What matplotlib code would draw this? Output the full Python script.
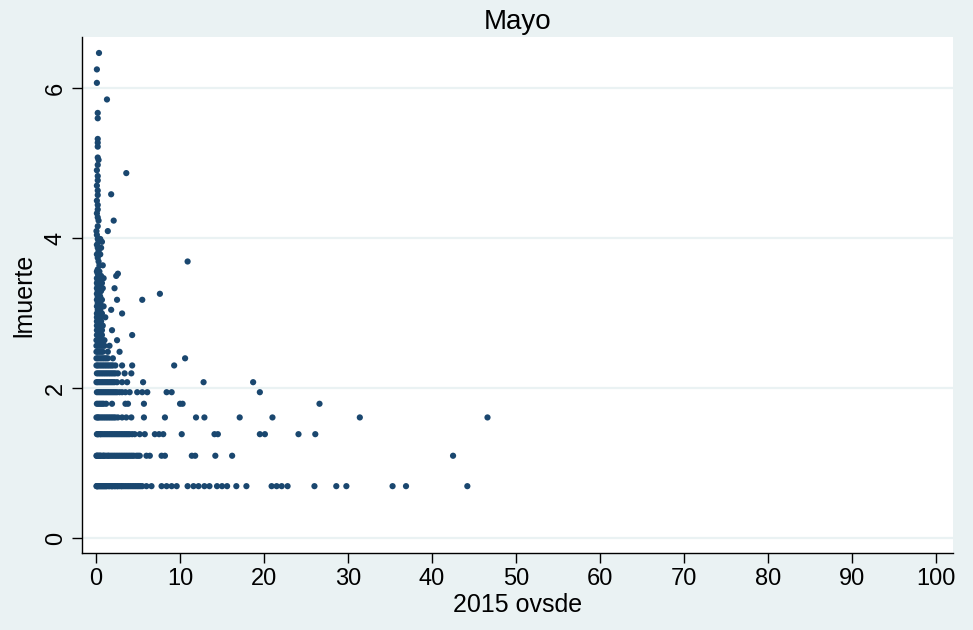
import numpy as np
import matplotlib.pyplot as plt

plt.rcParams['font.family'] = ['Liberation Sans', 'DejaVu Sans']

# ovsde 2015 por numero de muertes (filas densas, conteos 2..10)
ovsde_m2 = [0.05, 0.1, 0.15, 0.2, 0.3, 0.4, 0.5, 0.6, 0.7, 0.8, 0.9, 1.0, 1.1, 1.2, 1.3, 1.5,
            1.6, 1.8, 1.9, 2.0, 2.2, 2.3, 2.5, 2.6, 2.8, 3.0, 3.1, 3.3, 3.5, 3.7, 3.9, 4.1,
            4.3, 4.5, 4.7, 4.9, 5.1, 5.3, 5.5, 6.0, 6.6, 7.8, 8.4, 9.0, 9.6, 10.9, 11.6,
            12.2, 12.9, 13.5, 14.4, 15.0, 15.6, 16.7, 17.9, 20.9, 21.5, 22.1, 22.8, 26.0,
            28.6, 29.8, 35.3, 36.9, 44.2]
ovsde_m3 = [0.05, 0.1, 0.2, 0.3, 0.4, 0.5, 0.6, 0.8, 0.9, 1.0, 1.2, 1.4, 1.5, 1.7, 1.9, 2.1,
            2.3, 2.5, 2.7, 2.9, 3.1, 3.3, 3.5, 3.7, 3.9, 4.1, 4.3, 4.5, 4.8, 5.0, 5.2, 6.0,
            6.4, 7.8, 8.2, 11.4, 11.8, 14.2, 16.2, 42.5]
ovsde_m4 = [0.1, 0.2, 0.3, 0.5, 0.6, 0.8, 1.0, 1.2, 1.4, 1.6, 1.8, 2.0, 2.2, 2.4, 2.6, 2.8,
            3.0, 3.2, 3.4, 3.6, 3.8, 4.0, 4.3, 4.6, 5.2, 5.8, 7.0, 7.5, 8.0, 10.2, 14.1,
            14.5, 19.5, 20.1, 24.1, 26.1]
ovsde_m5 = [0.05, 0.2, 0.3, 0.5, 0.7, 0.9, 1.1, 1.3, 1.5, 1.7, 1.9, 2.1, 2.3, 2.6, 3.1, 3.6,
            4.2, 5.7, 8.2, 11.9, 12.9, 17.1, 21.0, 31.4, 46.6]
ovsde_m6 = [0.1, 0.3, 0.5, 0.7, 0.9, 1.2, 1.9, 3.5, 3.8, 5.7, 10.0, 10.3, 26.6]
ovsde_m7 = [0.1, 0.3, 0.5, 0.7, 0.9, 1.1, 1.3, 1.5, 1.7, 1.9, 2.1, 2.3, 2.5, 2.8, 3.1, 3.5,
            4.0, 4.9, 5.5, 6.1, 8.4, 9.0, 19.5]
ovsde_m8 = [0.05, 0.2, 0.4, 0.6, 0.8, 1.0, 1.2, 1.4, 1.6, 1.8, 2.0, 2.2, 2.5, 3.1, 3.7, 5.6,
            12.8, 18.7]
ovsde_m9 = [0.1, 0.3, 0.5, 0.7, 0.9, 1.1, 1.3, 1.5, 1.7, 1.9, 2.1, 2.3, 2.6, 3.4, 4.2]
ovsde_m10 = [0.05, 0.2, 0.4, 0.6, 0.8, 1.0, 1.2, 1.4, 1.6, 1.8, 2.0, 2.3, 3.1, 4.3, 9.3]

# conteos mas altos: muertes y ovsde en paralelo
muertes_altas = [11, 11, 11, 11, 11, 11, 11, 11, 11, 11,
                 12, 12, 12, 12, 12, 12, 12,
                 13, 13, 13, 13, 13, 13, 13,
                 14, 14, 14, 14, 14, 14, 14,
                 15, 15, 15, 15, 15,
                 16, 16, 16, 16, 16,
                 17, 17, 17, 17,
                 18, 18, 18,
                 19, 19, 19, 19,
                 20, 20, 20, 20,
                 21, 21, 21,
                 22, 22, 22, 22,
                 23, 23,
                 24, 24, 24, 24, 24,
                 25, 25,
                 26, 26, 26,
                 27, 27,
                 28, 28, 28, 28,
                 29, 29,
                 30, 30, 30,
                 31,
                 32, 32, 32,
                 33, 33, 33,
                 34, 34,
                 35, 35,
                 36,
                 38, 38,
                 40, 40,
                 42,
                 44, 44,
                 46,
                 48, 48,
                 50,
                 52, 52,
                 54, 54,
                 57,
                 60, 60,
                 64,
                 69, 69,
                 72, 76, 80, 85, 90, 97, 98, 103, 110, 118, 125, 130, 135, 145, 155,
                 160, 185, 195, 205, 270, 290, 347, 433, 518, 645]
ovsde_altas = [0.05, 0.2, 0.4, 0.6, 0.8, 1.0, 1.2, 1.4, 2.0, 10.6,
               0.05, 0.2, 0.4, 0.6, 0.8, 1.4, 2.8,
               0.05, 0.2, 0.4, 0.6, 0.8, 1.0, 1.6,
               0.05, 0.2, 0.4, 0.6, 0.8, 1.0, 2.5,
               0.1, 0.3, 0.5, 0.7, 4.3,
               0.1, 0.3, 0.5, 0.7, 1.9,
               0.1, 0.3, 0.5, 0.8,
               0.1, 0.3, 0.6,
               0.1, 0.3, 0.5, 1.1,
               0.1, 0.4, 0.7, 3.1,
               0.2, 0.5, 1.8,
               0.1, 0.3, 0.6, 0.9,
               0.2, 0.5,
               0.1, 0.4, 0.7, 2.5, 5.5,
               0.2, 0.5,
               0.1, 0.4, 7.6,
               0.2, 0.6,
               0.1, 0.4, 0.8, 2.2,
               0.2, 0.5,
               0.1, 0.3, 0.7,
               0.2,
               0.1, 0.5, 0.9,
               0.3, 0.6, 2.4,
               0.2, 2.6,
               0.1, 0.4,
               0.2,
               0.4, 0.8,
               0.3, 10.9,
               0.2,
               0.1, 0.5,
               0.3,
               0.2, 0.6,
               0.1,
               0.3, 0.7,
               0.2, 0.5,
               0.1,
               0.05, 1.4,
               0.2,
               0.3, 2.1,
               0.2, 0.1, 0.2, 0.2, 0.1, 0.2, 1.8, 0.2, 0.1, 0.2, 0.2, 3.6, 0.1, 0.2, 0.3,
               0.2, 0.2, 0.2, 0.2, 0.2, 0.2, 1.3, 0.1, 0.1, 0.35]

filas = [(2, ovsde_m2), (3, ovsde_m3), (4, ovsde_m4), (5, ovsde_m5), (6, ovsde_m6),
         (7, ovsde_m7), (8, ovsde_m8), (9, ovsde_m9), (10, ovsde_m10)]

x = list(ovsde_altas)
conteos = list(muertes_altas)
for c, xs in filas:
    x += xs
    conteos += [c] * len(xs)
x = np.array(x)
lmuerte = np.log(np.array(conteos, dtype=float))

fondo = '#eaf2f3'
azul = '#1a476f'

fig = plt.figure(figsize=(9.73, 6.3), dpi=100, facecolor=fondo)
ax = fig.add_axes([0.0843, 0.122, 0.895, 0.819])
ax.set_facecolor('white')

ax.scatter(x, lmuerte, s=20, color=azul, edgecolors='none', zorder=3)

ax.set_xlim(-1.67, 102)
ax.set_ylim(-0.2, 6.68)
ax.set_xticks(range(0, 101, 10))
ax.set_yticks([0, 2, 4, 6])
ax.yaxis.grid(True, color=fondo, lw=1.6)
ax.set_axisbelow(True)

for s in ['top', 'right']:
    ax.spines[s].set_visible(False)
for s in ['left', 'bottom']:
    ax.spines[s].set_linewidth(1.0)
    ax.spines[s].set_color('black')

ax.tick_params(axis='both', length=7, width=1, labelsize=17, color='black')
ax.tick_params(axis='x', pad=4)
ax.tick_params(axis='y', pad=4)
for lab in ax.get_yticklabels():
    lab.set_rotation(90)
    lab.set_va('center')

ax.set_xlabel('2015 ovsde', fontsize=18, labelpad=2)
ax.set_ylabel('lmuerte', fontsize=18, labelpad=6)
ax.set_title('Mayo', fontsize=20, pad=6)

fig.savefig('out.png', dpi=100, facecolor=fondo)
